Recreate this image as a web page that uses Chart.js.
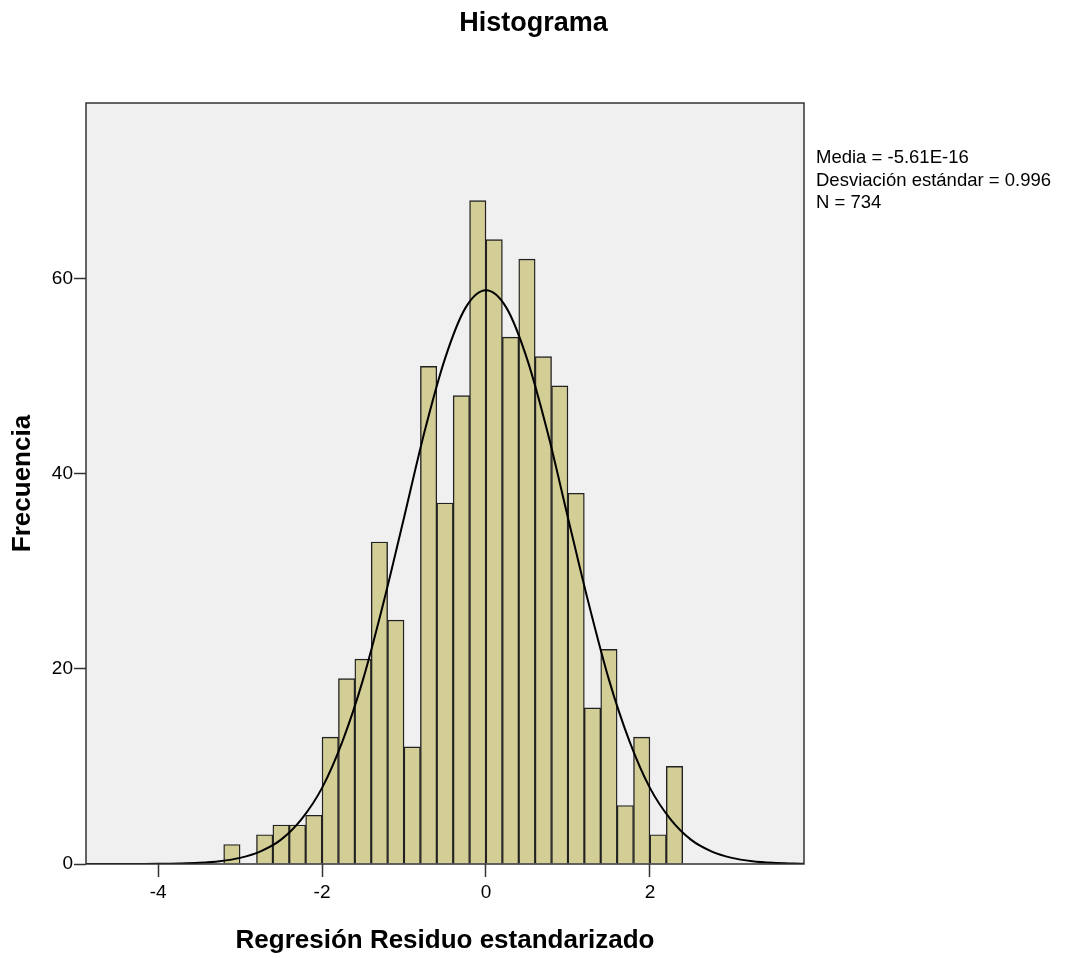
<!DOCTYPE html>
<html>
<head>
<meta charset="utf-8">
<title>Histograma</title>
<script src="https://cdn.jsdelivr.net/npm/chart.js@4.4.1/dist/chart.umd.min.js"></script>
<style>
  html, body { margin: 0; padding: 0; background: #ffffff; }
  #wrap { position: relative; width: 1067px; height: 959px; }
</style>
</head>
<body>
<div id="wrap"><canvas id="histChart"></canvas></div>
<script>
// Datos
const chartTitle = 'Histograma';
const xTitle = 'Regresión Residuo estandarizado';
const yTitle = 'Frecuencia';
const statsLines = ['Media = -5.61E-16', 'Desviación estándar = 0.996', 'N = 734'];

const binCenters = [-3.1, -2.9, -2.7, -2.5, -2.3, -2.1, -1.9, -1.7, -1.5, -1.3,
                    -1.1, -0.9, -0.7, -0.5, -0.3, -0.1, 0.1, 0.3, 0.5, 0.7,
                    0.9, 1.1, 1.3, 1.5, 1.7, 1.9, 2.1, 2.3];
const frequencies = [2, 0, 3, 4, 4, 5, 13, 19, 21, 33,
                     25, 12, 51, 37, 48, 68, 64, 54, 62, 52,
                     49, 38, 16, 22, 6, 13, 3, 10];

const curveX = [-4.88, -4.5, -4.25, -4.0, -3.75, -3.5, -3.25, -3.0, -2.75, -2.5, -2.25,
                -2.0, -1.75, -1.5, -1.25, -1.0, -0.75, -0.5, -0.25, 0,
                0.25, 0.5, 0.75, 1.0, 1.25, 1.5, 1.75, 2.0, 2.25, 2.5,
                2.75, 3.0, 3.25, 3.5, 3.75, 3.88];
const curveY = [0.0, 0.0, 0.01, 0.02, 0.05, 0.12, 0.29, 0.63, 1.3, 2.5, 4.6,
                7.8, 12.6, 18.9, 26.8, 35.5, 44.3, 51.8, 57.0, 58.8,
                57.0, 51.8, 44.3, 35.5, 26.8, 18.9, 12.6, 7.8, 4.6, 2.5,
                1.3, 0.63, 0.29, 0.12, 0.05, 0.03];

const xTicks = [-4, -2, 0, 2];
const yTicks = [0, 20, 40, 60];
const xRange = [-4.88, 3.88];
const yRange = [0, 78];

const fontFamily = "'Liberation Sans', Arial, sans-serif";

// Fondo, marco, título y estadísticos
const framePlugin = {
    id: 'framePlugin',
    beforeDraw(chart) {
        const { ctx, chartArea: a } = chart;
        ctx.save();
        ctx.fillStyle = '#f0f0f0';
        ctx.fillRect(a.left, a.top, a.right - a.left, a.bottom - a.top);
        ctx.restore();
    },
    afterDatasetsDraw(chart) {
        const { ctx, chartArea: a } = chart;
        ctx.save();
        ctx.strokeStyle = '#333333';
        ctx.lineWidth = 1.5;
        ctx.strokeRect(a.left, a.top, a.right - a.left, a.bottom - a.top);
        ctx.restore();
    },
    afterDraw(chart) {
        const { ctx, chartArea: a } = chart;
        ctx.save();
        ctx.fillStyle = '#000000';
        ctx.textAlign = 'center';
        ctx.textBaseline = 'middle';
        ctx.font = 'bold 27px ' + fontFamily;
        ctx.fillText(chartTitle, chart.width / 2, 24);

        ctx.textAlign = 'left';
        ctx.font = '18.5px ' + fontFamily;
        statsLines.forEach((line, i) => {
            ctx.fillText(line, a.right + 12, 158 + i * 22.5);
        });
        ctx.restore();
    }
};

const ctx = document.getElementById('histChart');

new Chart(ctx, {
    type: 'bar',
    data: {
        datasets: [{
            type: 'line',
            label: 'Normal',
            data: curveX.map((x, i) => ({ x: x, y: curveY[i] })),
            borderColor: '#000000',
            borderWidth: 2,
            pointRadius: 0,
            cubicInterpolationMode: 'monotone',
            fill: false,
            order: 0
        }, {
            type: 'bar',
            label: 'Frecuencia',
            data: binCenters.map((x, i) => ({ x: x, y: frequencies[i] })),
            backgroundColor: '#d3cd96',
            borderColor: '#222222',
            borderWidth: 1.4,
            barPercentage: 1,
            categoryPercentage: 1,
            order: 1
        }]
    },
    options: {
        responsive: true,
        maintainAspectRatio: false,
        animation: false,
        layout: {
            padding: { top: 103, left: 0, right: 263, bottom: 0 }
        },
        plugins: {
            legend: { display: false },
            tooltip: { enabled: false }
        },
        scales: {
            x: {
                type: 'linear',
                min: xRange[0],
                max: xRange[1],
                offset: false,
                afterBuildTicks: (scale) => {
                    scale.ticks = xTicks.map(v => ({ value: v }));
                },
                afterFit: (scale) => { scale.height = 95; },
                grid: {
                    offset: false,
                    drawOnChartArea: false,
                    tickLength: 13,
                    tickColor: '#333333',
                    tickWidth: 1.5
                },
                border: { display: false },
                ticks: {
                    color: '#000000',
                    padding: 4,
                    maxRotation: 0,
                    font: { family: fontFamily, size: 19 }
                },
                title: {
                    display: true,
                    text: xTitle,
                    color: '#000000',
                    padding: { top: 0, bottom: 3 },
                    font: { family: fontFamily, size: 26, weight: 'bold' }
                }
            },
            y: {
                min: yRange[0],
                max: yRange[1],
                afterBuildTicks: (scale) => {
                    scale.ticks = yTicks.map(v => ({ value: v }));
                },
                afterFit: (scale) => { scale.width = 86; },
                grid: {
                    drawOnChartArea: false,
                    tickLength: 12,
                    tickColor: '#333333',
                    tickWidth: 1.5
                },
                border: { display: false },
                ticks: {
                    color: '#000000',
                    padding: 1,
                    font: { family: fontFamily, size: 19 }
                },
                title: {
                    display: true,
                    text: yTitle,
                    color: '#000000',
                    padding: { top: 7, bottom: 0 },
                    font: { family: fontFamily, size: 26, weight: 'bold' }
                }
            }
        }
    },
    plugins: [framePlugin]
});
</script>
</body>
</html>
